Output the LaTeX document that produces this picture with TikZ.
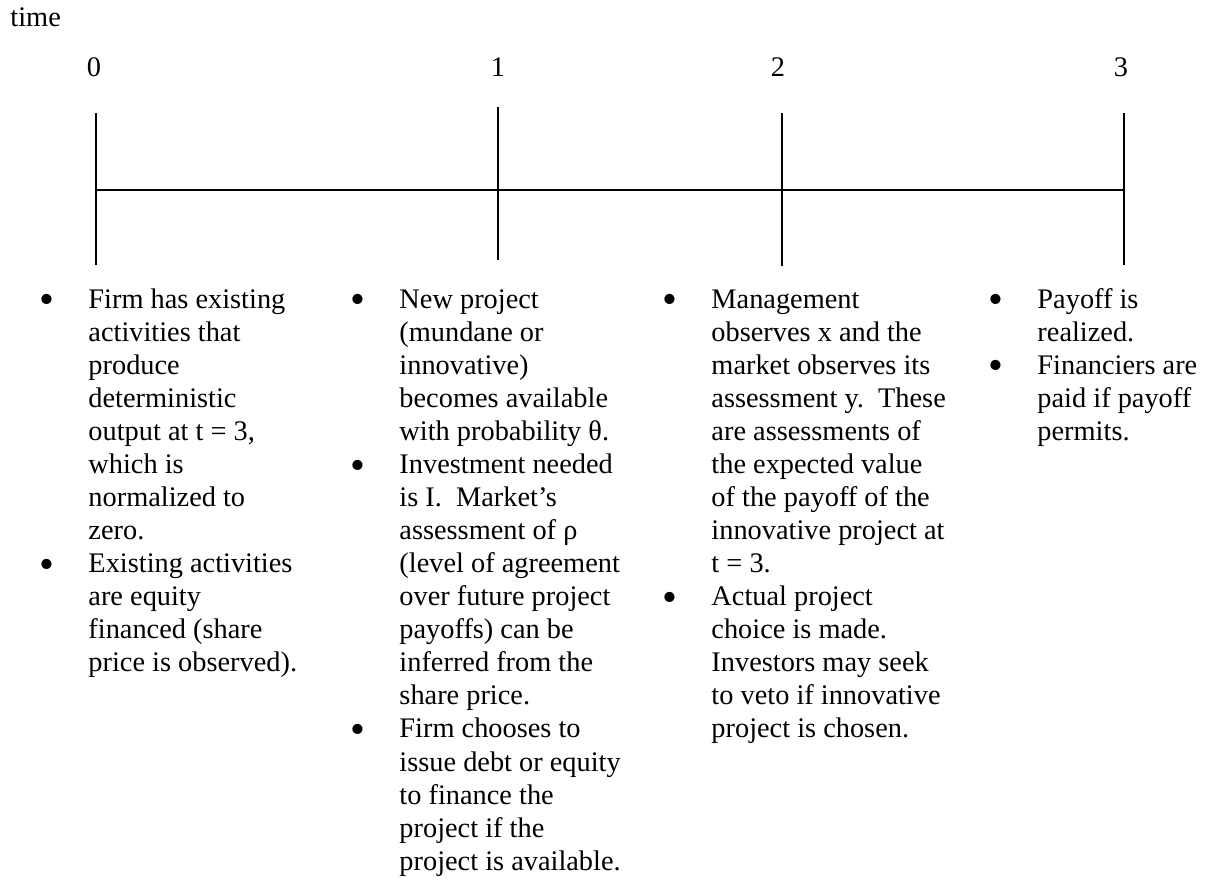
\documentclass[tikz,border=0pt]{standalone}
\usepackage{fontspec}
\setmainfont{Liberation Serif}
\usetikzlibrary{positioning}
\newcommand{\bul}{\llap{\raisebox{-2.4pt}{\fontsize{18}{14}\selectfont\textbullet}\hspace{14.3pt}}}

\begin{document}
\begin{tikzpicture}[x=0.4233pt,y=-0.4233pt,
    lbl/.style={inner sep=0pt,font=\fontsize{12}{14}\selectfont},
    tick/.style={line width=0.85pt}]
    \useasboundingbox (0,0) rectangle (1209,882);
    % Axis
    \coordinate (a0) at (96,190);
    \coordinate (a3) at (1124,190);
    \draw[tick] (a0) -- (a3);
    % Ticks
    \coordinate (t0a) at (96,113);  \coordinate (t0b) at (96,265);
    \coordinate (t1a) at (498,107); \coordinate (t1b) at (498,260);
    \coordinate (t2a) at (782,113); \coordinate (t2b) at (782,266);
    \coordinate (t3a) at (1124,113); \coordinate (t3b) at (1124,265);
    \draw[tick] (t0a) -- (t0b);
    \draw[tick] (t1a) -- (t1b);
    \draw[tick] (t2a) -- (t2b);
    \draw[tick] (t3a) -- (t3b);
    % Time labels
    \node[lbl,anchor=base west] (time) at (10,27) {time};
    \node[lbl,anchor=base] (n0) at (94,77) {0};
    \node[lbl,anchor=base] (n1) at (498,77) {1};
    \node[lbl,anchor=base] (n2) at (778,77) {2};
    \node[lbl,anchor=base] (n3) at (1121,77) {3};
    % Events at t = 0
    \node[lbl,anchor=base west] (ev0) at (88,308) {\begin{tabular}[t]{@{}l@{}}
        \bul Firm has existing\\
        activities that\\
        produce\\
        deterministic\\
        output at t = 3,\\
        which is\\
        normalized to\\
        zero.\\
        \bul Existing activities\\
        are equity\\
        financed (share\\
        price is observed).
    \end{tabular}};
    % Events at t = 1
    \node[lbl,anchor=base west] (ev1) at (399,308) {\begin{tabular}[t]{@{}l@{}}
        \bul New project\\
        (mundane or\\
        innovative)\\
        becomes available\\
        with probability θ.\\
        \bul Investment needed\\
        is I.\ \ Market’s\\
        assessment of ρ\\
        (level of agreement\\
        over future project\\
        payoffs) can be\\
        inferred from the\\
        share price.\\
        \bul Firm chooses to\\
        issue debt or equity\\
        to finance the\\
        project if the\\
        project is available.
    \end{tabular}};
    % Events at t = 2
    \node[lbl,anchor=base west] (ev2) at (711,308) {\begin{tabular}[t]{@{}l@{}}
        \bul Management\\
        observes x and the\\
        market observes its\\
        assessment y.\ \ These\\
        are assessments of\\
        the expected value\\
        of the payoff of the\\
        innovative project at\\
        t = 3.\\
        \bul Actual project\\
        choice is made.\\
        Investors may seek\\
        to veto if innovative\\
        project is chosen.
    \end{tabular}};
    % Events at t = 3
    \node[lbl,anchor=base west] (ev3) at (1037,308) {\begin{tabular}[t]{@{}l@{}}
        \bul Payoff is\\
        realized.\\
        \bul Financiers are\\
        paid if payoff\\
        permits.
    \end{tabular}};
\end{tikzpicture}
\end{document}
